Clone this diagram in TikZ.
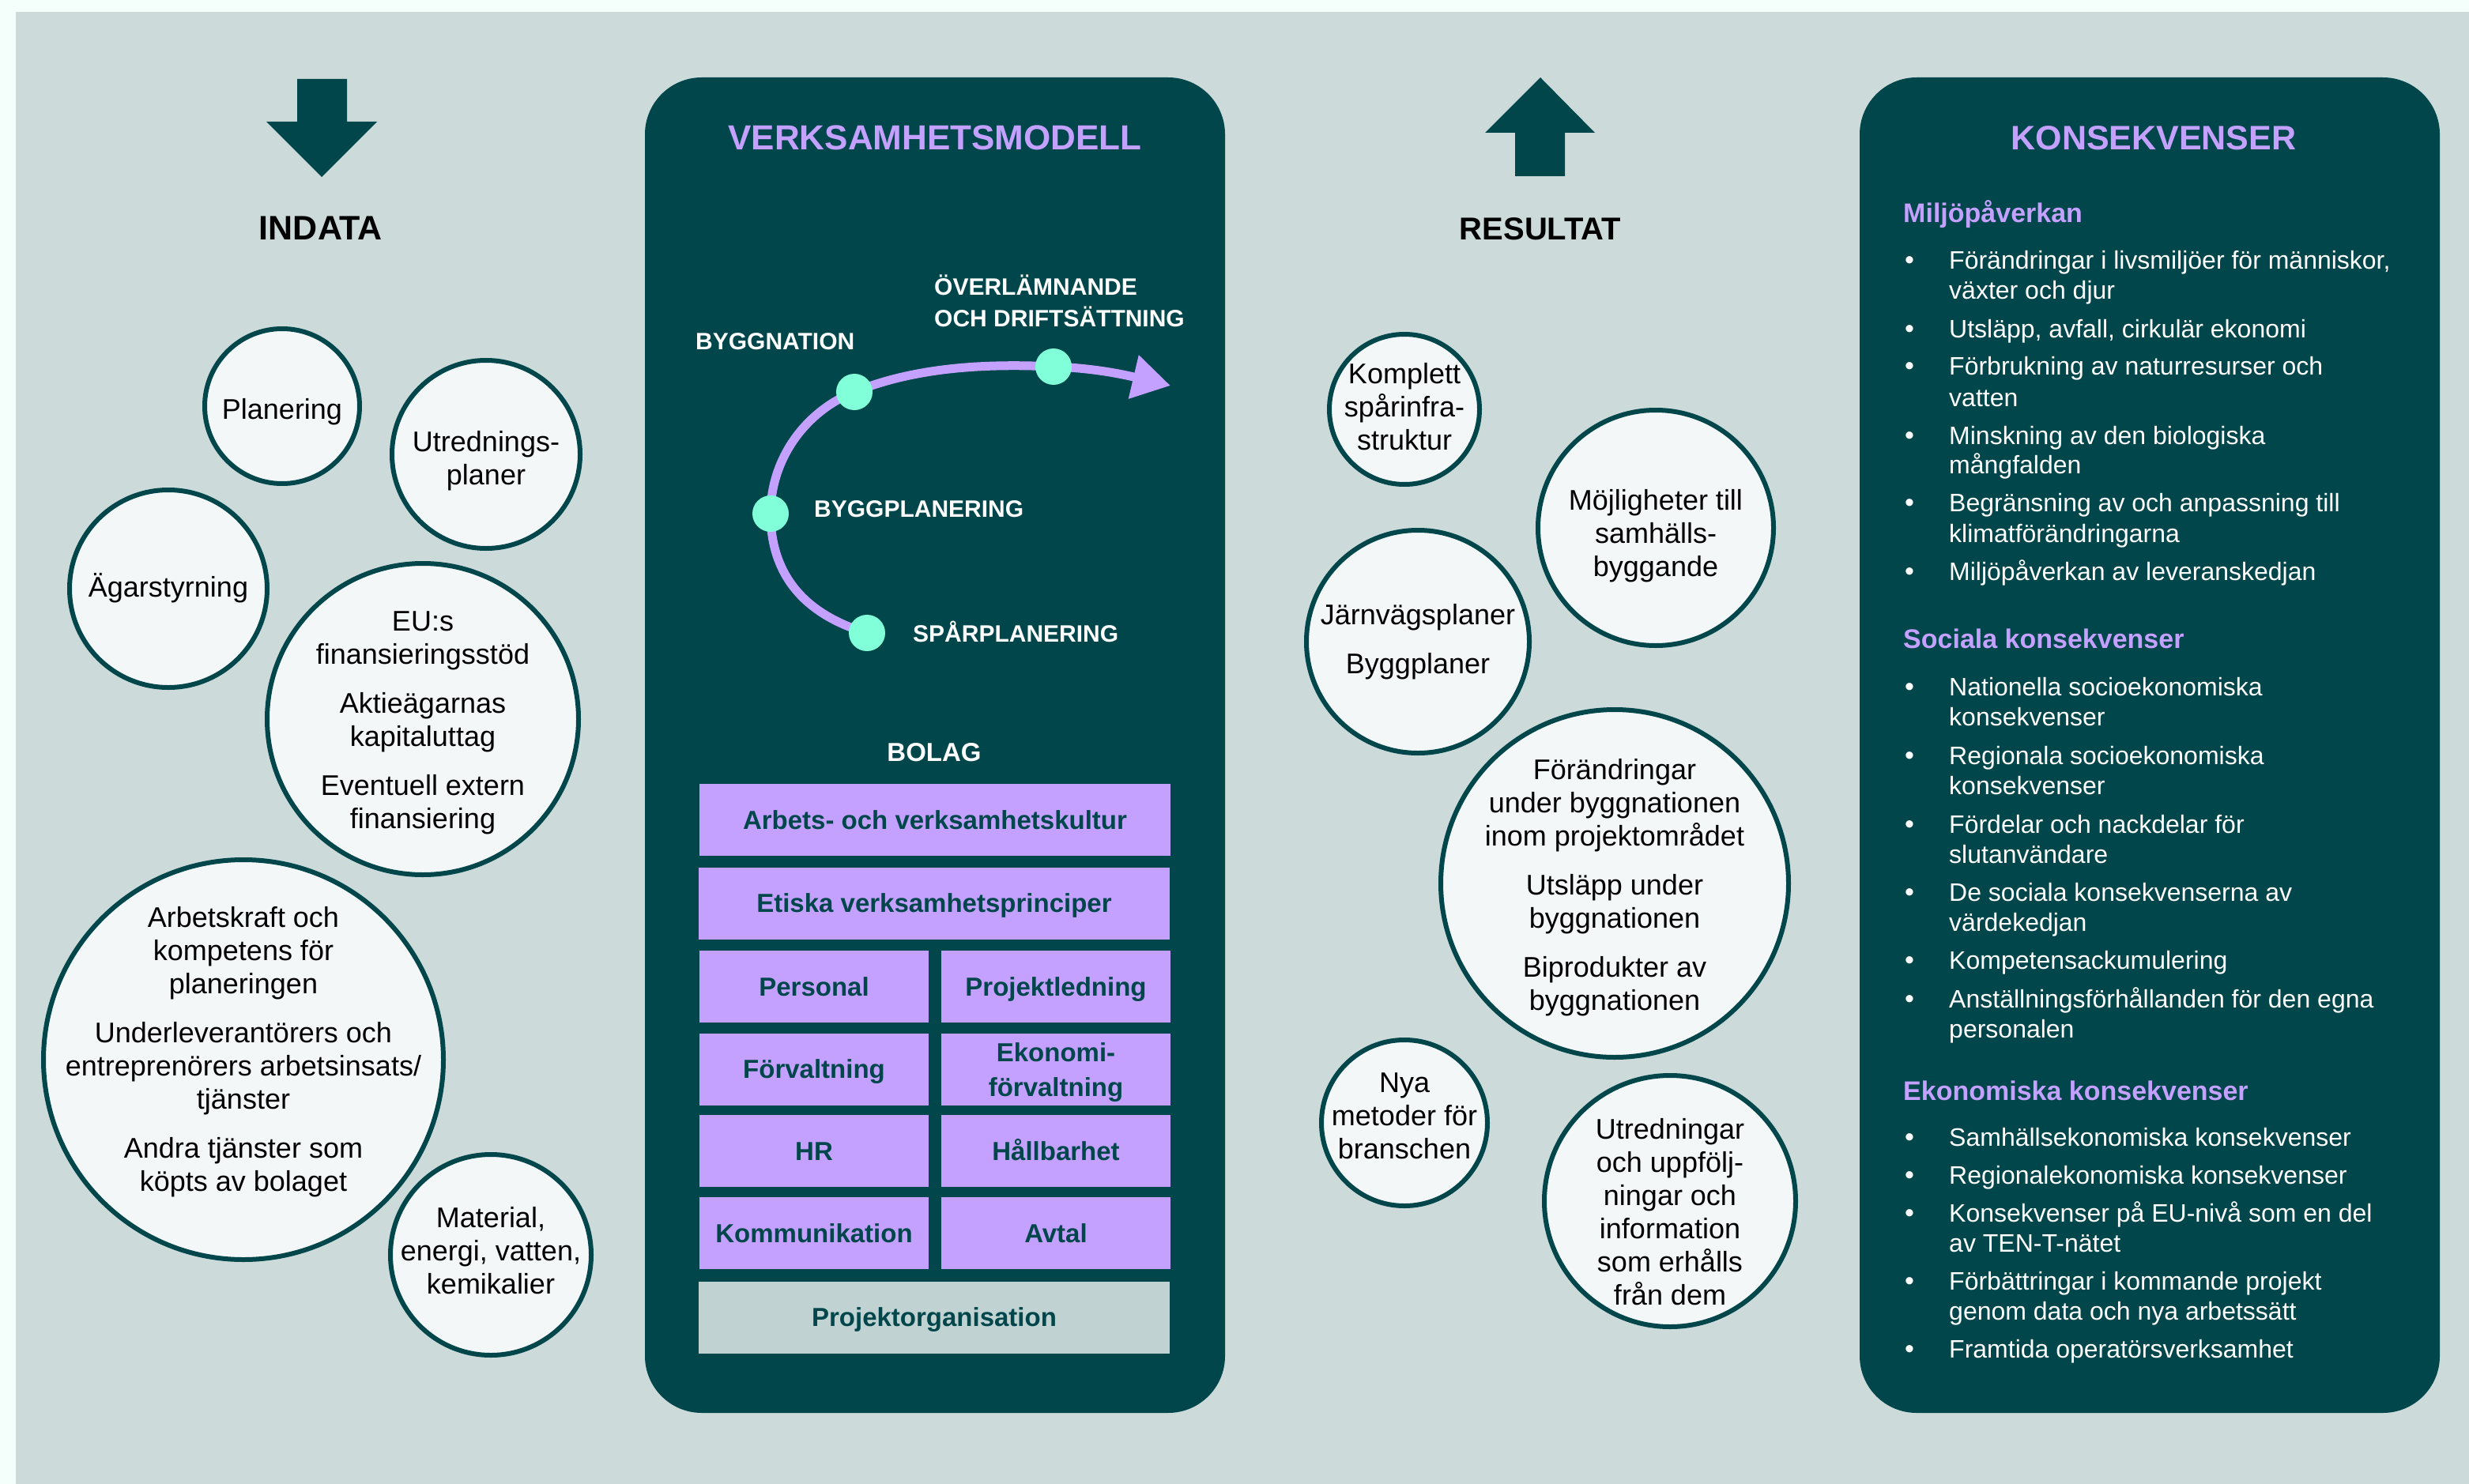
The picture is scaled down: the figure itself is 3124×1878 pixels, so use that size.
\documentclass[tikz,border=0pt]{standalone}
\usepackage{fontspec}
\setmainfont{Liberation Sans}
\usetikzlibrary{arrows.meta}
\definecolor{cMargin}{HTML}{F4FFFB}
\definecolor{cBg}{HTML}{CCDBDA}
\definecolor{cTeal}{HTML}{01464A}
\definecolor{cPurple}{HTML}{C4A1FF}
\definecolor{cDot}{HTML}{80FFD8}
\definecolor{cBub}{HTML}{F4F7F8}
\definecolor{cOrg}{HTML}{C0D2D2}
\tikzset{
  bub/.style={circle, draw=cTeal, line width=6pt, fill=cBub, inner sep=0pt},
  btext/.style={align=center, font=\fontsize{36}{42}\selectfont, text=black, inner sep=0pt},
  pbox/.style={rectangle, fill=cPurple, inner sep=0pt, minimum height=91pt, text=cTeal,
    font=\bfseries\fontsize{33}{40}\selectfont, text height=23.6pt, text depth=0pt},
  wide/.style={minimum width=596pt},
  half/.style={minimum width=290pt},
  panel/.style={fill=cTeal, rounded corners=72pt, minimum width=734pt, minimum height=1690pt, inner sep=0pt},
  stage/.style={anchor=base west, text=white, font=\bfseries\fontsize{30}{36}\selectfont, inner sep=0pt},
  sdot/.style={circle, fill=cDot, minimum size=46pt, inner sep=0pt},
  ktext/.style={anchor=base west, text=white, font=\fontsize{32}{38}\selectfont, inner sep=0pt},
  khead/.style={anchor=base west, text=cPurple, font=\bfseries\fontsize{34}{40}\selectfont, inner sep=0pt},
  kbul/.style={anchor=base, text=white, font=\fontsize{34}{38}\selectfont, inner sep=0pt},
  ptitle/.style={anchor=base, text=cPurple, font=\bfseries\fontsize{44}{50}\selectfont, inner sep=0pt},
  stitle/.style={anchor=base, text=black, font=\bfseries\fontsize{42}{50}\selectfont, inner sep=0pt},
}
\begin{document}
\begin{tikzpicture}[x=1pt,y=-1pt]
\useasboundingbox (0,0) rectangle (3124,1878);
\fill[cMargin] (0,0) rectangle (3124,1878);
\fill[cBg] (20,15) rectangle (3124,1878);

% big arrows
\fill[cTeal] (376,100) -- (439,100) -- (439,154) -- (477,154) -- (407,224) -- (337,154) -- (376,154) -- cycle;
\fill[cTeal] (1949,98) -- (2018,168) -- (1980,168) -- (1980,223) -- (1917,223) -- (1917,168) -- (1879,168) -- cycle;
\node[stitle, font=\bfseries\fontsize{43}{50}\selectfont] (indata) at (406,304) {INDATA};
\node[stitle, font=\bfseries\fontsize{40}{50}\selectfont] (resultat) at (1949,304) {RESULTAT};

% dark panels
\node[panel] (vpanel) at (1183,943) {};
\node[panel] (kpanel) at (2720,943) {};
\node[ptitle] (vtitle) at (1183,190) {VERKSAMHETSMODELL};
\node[ptitle, font=\bfseries\fontsize{43}{50}\selectfont] (ktitle) at (2725,190) {KONSEKVENSER};

% process curve
\coordinate (ds) at (1097,801);
\coordinate (dbp) at (975,650);
\coordinate (db) at (1081,496);
\coordinate (dov) at (1333,464);
\coordinate (dtip) at (1481,488);
\draw[cPurple, line width=11pt, -{Triangle[length=48pt,width=54pt]}]
  (ds) .. controls (1010,775) and (975,720) .. (dbp)
       .. controls (975,580) and (1020,520) .. (db)
       .. controls (1160,464) and (1250,460) .. (dov)
       .. controls (1390,466) and (1430,476) .. (dtip);
\node[sdot] (nds) at (ds) {};
\node[sdot] (ndbp) at (dbp) {};
\node[sdot] (ndb) at (db) {};
\node[sdot] (ndov) at (dov) {};
\node[stage] (lb) at (880,442) {BYGGNATION};
\node[stage] (lo1) at (1182,373) {ÖVERLÄMNANDE};
\node[stage] (lo2) at (1182,413) {OCH DRIFTSÄTTNING};
\node[stage] (lbp) at (1030,654) {BYGGPLANERING};
\node[stage] (ls) at (1155,812) {SPÅRPLANERING};

% BOLAG
\node[anchor=base, text=white, font=\bfseries\fontsize{33}{40}\selectfont, inner sep=0pt] (bolag) at (1182,963) {BOLAG};
\node[pbox, wide] (b1) at (1183,1037.5) {Arbets- och verksamhetskultur};
\node[pbox, wide] (b2) at (1182,1143) {Etiska verksamhetsprinciper};
\node[pbox, half] (b3) at (1030,1248.5) {Personal};
\node[pbox, half] (b4) at (1336,1248.5) {Projektledning};
\node[pbox, half] (b5) at (1030,1353) {Förvaltning};
\node[pbox, half] (b6) at (1336,1353) {};
\node[align=center, text=cTeal, font=\bfseries\fontsize{33}{44}\selectfont, inner sep=0pt] (b6t) at (1336,1357.5) {Ekonomi-\\förvaltning};
\node[pbox, half] (b7) at (1030,1456.5) {HR};
\node[pbox, half] (b8) at (1336,1456.5) {Hållbarhet};
\node[pbox, half] (b9) at (1030,1560.5) {Kommunikation};
\node[pbox, half] (b10) at (1336,1560.5) {Avtal};
\node[pbox, wide, fill=cOrg] (b11) at (1182,1667) {Projektorganisation};

% INDATA bubbles
\node[bub, minimum size=196pt] (c1) at (357,514) {};
\node[bub, minimum size=238pt] (c2) at (615,575) {};
\node[bub, minimum size=250pt] (c3) at (213,745) {};
\node[bub, minimum size=394pt] (c4) at (535,910) {};
\node[bub, minimum size=506pt] (c5) at (308,1341) {};
\node[bub, minimum size=254pt] (c6) at (621,1588) {};
\node[btext] (t1) at (357,521) {Planering};
\node[btext] (t2) at (615,583) {Utrednings-\\planer};
\node[btext] (t3) at (213,744) {Ägarstyrning};
\node[btext] (t4) at (535,915) {EU:s\\finansieringsstöd\\[20pt]Aktieägarnas\\kapitaluttag\\[20pt]Eventuell extern\\finansiering};
\node[btext] (t5) at (308,1331) {Arbetskraft och\\kompetens för\\planeringen\\[20pt]Underleverantörers och\\entreprenörers arbetsinsats/\\tjänster\\[20pt]Andra tjänster som\\köpts av bolaget};
\node[btext] (t6) at (621,1583) {Material,\\energi, vatten,\\kemikalier};

% RESULTAT bubbles
\node[bub, minimum size=190pt] (c7) at (1777,518) {};
\node[bub, minimum size=298pt] (c8) at (2095,668) {};
\node[bub, minimum size=282pt] (c9) at (1794,812) {};
\node[bub, minimum size=440pt] (c10) at (2043,1118) {};
\node[bub, minimum size=210pt] (c11) at (1777,1421) {};
\node[bub, minimum size=318pt] (c12) at (2113,1520) {};
\node[btext] (t7) at (1777,515) {Komplett\\spårinfra-\\struktur};
\node[btext] (t8) at (2095,678) {Möjligheter till\\samhälls-\\byggande};
\node[btext] (t9) at (1794,812) {Järnvägsplaner\\[20pt]Byggplaner};
\node[btext] (t10) at (2043,1123) {Förändringar\\under byggnationen\\inom projektområdet\\[20pt]Utsläpp under\\byggnationen\\[20pt]Biprodukter av\\byggnationen};
\node[btext] (t11) at (1777,1412) {Nya\\metoder för\\branschen};
\node[btext] (t12) at (2113,1534) {Utredningar\\och uppfölj-\\ningar och\\information\\som erhålls\\från dem};

% KONSEKVENSER list
\node[khead] (kh1) at (2408,282) {Miljöpåverkan};
\node[ktext] (k1) at (2466,340) {Förändringar i livsmiljöer för människor,};
\node[ktext] (k2) at (2466,378) {växter och djur};
\node[ktext] (k3) at (2466,427) {Utsläpp, avfall, cirkulär ekonomi};
\node[ktext] (k4) at (2466,474) {Förbrukning av naturresurser och};
\node[ktext] (k5) at (2466,514) {vatten};
\node[ktext] (k6) at (2466,562) {Minskning av den biologiska};
\node[ktext] (k7) at (2466,599) {mångfalden};
\node[ktext] (k8) at (2466,647) {Begränsning av och anpassning till};
\node[ktext] (k9) at (2466,686) {klimatförändringarna};
\node[ktext] (k10) at (2466,734) {Miljöpåverkan av leveranskedjan};
\node[khead] (kh2) at (2408,820) {Sociala konsekvenser};
\node[ktext] (k11) at (2466,880) {Nationella socioekonomiska};
\node[ktext] (k12) at (2466,918) {konsekvenser};
\node[ktext] (k13) at (2466,967) {Regionala socioekonomiska};
\node[ktext] (k14) at (2466,1005) {konsekvenser};
\node[ktext] (k15) at (2466,1054) {Fördelar och nackdelar för};
\node[ktext] (k16) at (2466,1092) {slutanvändare};
\node[ktext] (k17) at (2466,1140) {De sociala konsekvenserna av};
\node[ktext] (k18) at (2466,1178) {värdekedjan};
\node[ktext] (k19) at (2466,1226) {Kompetensackumulering};
\node[ktext] (k20) at (2466,1275) {Anställningsförhållanden för den egna};
\node[ktext] (k21) at (2466,1313) {personalen};
\node[khead] (kh3) at (2408,1392) {Ekonomiska konsekvenser};
\node[ktext] (k22) at (2466,1450) {Samhällsekonomiska konsekvenser};
\node[ktext] (k23) at (2466,1498) {Regionalekonomiska konsekvenser};
\node[ktext] (k24) at (2466,1546) {Konsekvenser på EU-nivå som en del};
\node[ktext] (k25) at (2466,1584) {av TEN-T-nätet};
\node[ktext] (k26) at (2466,1632) {Förbättringar i kommande projekt};
\node[ktext] (k27) at (2466,1670) {genom data och nya arbetssätt};
\node[ktext] (k28) at (2466,1718) {Framtida operatörsverksamhet};
\foreach \yy [count=\i] in {340,427,474,562,647,734,880,967,1054,1140,1226,1275,1450,1498,1546,1632,1718}
  \node[kbul] (bul\i) at (2416,\yy) {•};
\end{tikzpicture}
\end{document}
